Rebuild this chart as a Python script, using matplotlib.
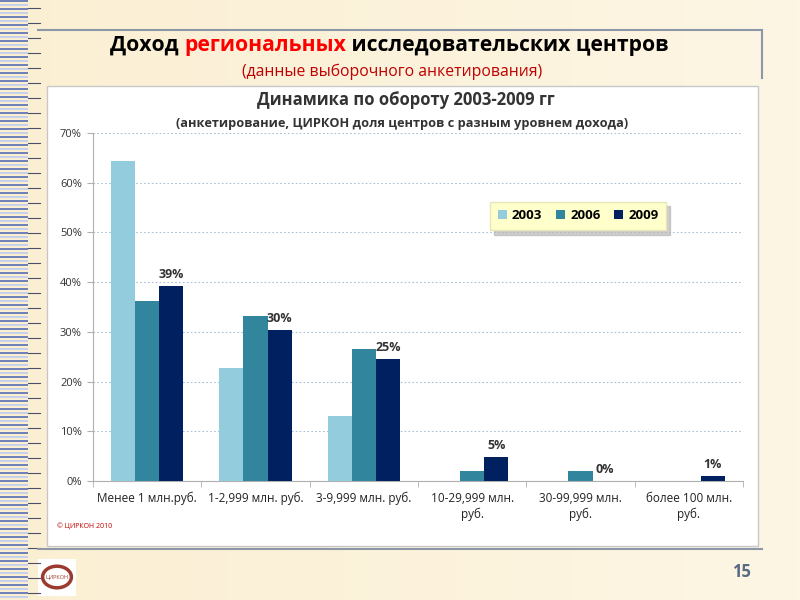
import numpy as np
import matplotlib
matplotlib.use("Agg")
from matplotlib import pyplot as plt
from matplotlib.patches import Rectangle, Circle
from matplotlib.lines import Line2D

# Data
categories = ["Менее 1 млн.руб.", "1-2,999 млн. руб.", "3-9,999 млн. руб.",
              "10-29,999 млн.\nруб.", "30-99,999 млн.\nруб.", "более 100 млн.\nруб."]
years = ["2003", "2006", "2009"]
share_2003 = [64.4, 22.7, 13.1, 0, 0, 0]
share_2006 = [36.2, 33.2, 26.6, 2.0, 2.0, 0]
share_2009 = [39.2, 30.4, 24.5, 4.8, 0, 1.0]
labels_2009 = ["39%", "30%", "25%", "5%", "0%", "1%"]
yticks = [0, 10, 20, 30, 40, 50, 60, 70]

colors = ["#93CDDD", "#31859C", "#002060"]
font = ["Open Sans", "DejaVu Sans"]
plt.rcParams["font.family"] = font

fig = plt.figure(figsize=(8, 6), dpi=100)

# slide background
bg = fig.add_axes([0, 0, 1, 1], zorder=-10)
grad = np.linspace(0, 1, 256).reshape(1, -1)
bg.imshow(np.vstack([grad] * 4), aspect="auto", extent=[0, 1, 0, 1],
          cmap=matplotlib.colors.LinearSegmentedColormap.from_list("bgc", ["#FBEFD3", "#FDF6E4"]))
bg.set_xlim(0, 1)
bg.set_ylim(0, 1)
bg.axis("off")

# striped left border
for k in range(0, 600, 4):
    y = 1 - k / 600
    c = "#7080B8" if (k // 4) % 2 == 0 else "#C9D0EA"
    bg.add_patch(Rectangle((0, y - 2 / 600), 28 / 800, 2 / 600, color=c, lw=0))
for k in range(8, 600, 15):
    bg.add_line(Line2D([28 / 800, 40 / 800], [1 - k / 600] * 2, color="#4A4F6A", lw=0.8))

# frame lines
bg.add_line(Line2D([38 / 800, 762 / 800], [1 - 30 / 600] * 2, color="#8C98A8", lw=1.5))
bg.add_line(Line2D([762 / 800] * 2, [1 - 30 / 600, 1 - 78 / 600], color="#8C98A8", lw=1.5))
bg.add_line(Line2D([38 / 800, 762 / 800], [1 - 549 / 600] * 2, color="#8C98A8", lw=1.5))

# white chart box
bg.add_patch(Rectangle((47 / 800, 1 - 546 / 600), 711 / 800, 460 / 600,
                       facecolor="white", edgecolor="#C8C8C8", lw=1))

# slide titles, middle word in red
fig.canvas.draw()
r = fig.canvas.get_renderer()
parts = [("Доход ", "black"), ("региональных", "#FF0000"), (" исследовательских центров", "black")]
x = 110
for txt, col in parts:
    tt = fig.text(x / 800, 1 - 45 / 600, txt, fontsize=15.2, fontweight="bold", color=col,
                  va="center")
    x += tt.get_window_extent(r).width
fig.text(0.49, 1 - 72 / 600, "(данные выборочного анкетирования)", fontsize=11.3,
         color="#C00000", ha="center", va="center")

# chart
ax = fig.add_axes([93 / 800, 1 - 481 / 600, 650 / 800, 348 / 600])
xs = np.arange(len(categories))
w = 0.222
for j, (vals, col, yr) in enumerate(zip([share_2003, share_2006, share_2009], colors, years)):
    ax.bar(xs + (j - 1) * w, vals, width=w, color=col, label=yr, zorder=3)
for i, lab in enumerate(labels_2009):
    ax.text(xs[i] + w, share_2009[i] + 1.0, lab, ha="center", va="bottom",
            fontsize=9, fontweight="bold", color="#333333", zorder=4)

ax.set_xlim(-0.5, len(categories) - 0.5)
ax.set_ylim(0, 70)
ax.set_yticks(yticks)
ax.set_yticklabels([f"{v}%" for v in yticks], fontsize=8, color="#333333")
ax.set_xticks(xs)
ax.set_xticklabels(categories, fontsize=8.5, color="#222222")
ax.set_xticks(np.arange(-0.5, len(categories), 1), minor=True)
ax.tick_params(axis="x", which="major", length=0, pad=8)
ax.tick_params(axis="x", which="minor", length=4, color="#B0B0B0")
ax.tick_params(axis="y", length=4, color="#B0B0B0", pad=4)
ax.grid(axis="y", color="#A9C0D6", linestyle=(0, (1.5, 2)), lw=0.8, zorder=0)
for s in ["top", "right"]:
    ax.spines[s].set_visible(False)
ax.spines["left"].set_color("#B0B0B0")
ax.spines["bottom"].set_color("#B0B0B0")
ax.set_facecolor("none")

leg = ax.legend(loc="upper left", bbox_to_anchor=(0.6, 0.822), ncol=3, frameon=True,
                prop={"weight": "bold", "size": 9.5}, handlelength=0.7,
                handleheight=0.7, columnspacing=1.0, handletextpad=0.4,
                borderpad=0.6, fancybox=False,
                shadow={"color": "#B8B8B8", "alpha": 0.7, "ox": 3, "oy": -3})
leg.get_frame().set_facecolor("#FFFFCC")
leg.get_frame().set_edgecolor("#E6E6B8")

fig.text(0.507, 1 - 100 / 600, "Динамика по обороту 2003-2009 гг", ha="center", va="center",
         fontsize=12, fontweight="bold", color="#333333")
fig.text(0.503, 1 - 124 / 600, "(анкетирование, ЦИРКОН доля центров с разным уровнем дохода)",
         ha="center", va="center", fontsize=9.2, fontweight="bold", color="#333333")
fig.text(57 / 800, 1 - 527 / 600, "© ЦИРКОН 2010", fontsize=5, color="#C00000", va="center")

# logo
bg.add_patch(Rectangle((38 / 800, 1 - 596 / 600), 38 / 800, 37 / 600, facecolor="white", lw=0))
bg.add_patch(Circle((57 / 800, 1 - 577 / 600), 0.018, fill=False, edgecolor="#9B3A2E", lw=2.5))
fig.text(57 / 800, 1 - 577 / 600, "ЦИРКОН", fontsize=4, color="#9B3A2E", ha="center", va="center")

fig.text(741 / 800, 1 - 572 / 600, "15", fontsize=12, fontweight="bold", color="#5A6A85",
         ha="center", va="center")

fig.savefig("out.png", dpi=100)
